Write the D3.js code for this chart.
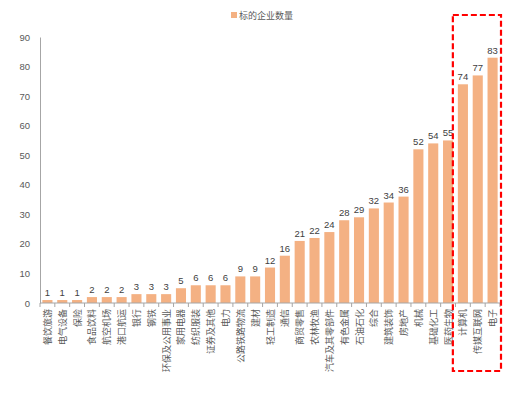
<!DOCTYPE html>
<html>
<head>
<meta charset="utf-8">
<script src="https://cdn.jsdelivr.net/npm/d3@7"></script>
<style>
  body { margin: 0; background: #fff; }
  svg { font-family: "Noto Sans CJK SC", "DejaVu Sans", sans-serif; }
</style>
</head>
<body>
<script>
// industries and counts
var categories = ["餐饮旅游", "电气设备", "保险", "食品饮料", "航空机场", "港口航运", "银行", "钢铁",
  "环保及公用事业", "家用电器", "纺织服装", "证券及其他", "电力", "公路铁路物流", "建材", "轻工制造",
  "通信", "商贸零售", "农林牧渔", "汽车及其零部件", "有色金属", "石油石化", "综合", "建筑装饰",
  "房地产", "机械", "基础化工", "医药生物", "计算机", "传媒互联网", "电子"];
var counts = [1, 1, 1, 2, 2, 2, 3, 3, 3, 5, 6, 6, 6, 9, 9, 12, 16, 21, 22, 24, 28, 29, 32, 34, 36, 52, 54, 55, 74, 77, 83];
var yTicks = [0, 10, 20, 30, 40, 50, 60, 70, 80, 90];
var seriesName = "标的企业数量";

var width = 527, height = 393;
var barColor = "#f4b183";

var svg = d3.select("body").append("svg")
    .attr("width", width)
    .attr("height", height);

var x = d3.scaleBand()
    .domain(categories)
    .range([40, 500])
    .paddingInner(0.32)
    .paddingOuter(0.16);

var y = d3.scaleLinear()
    .domain([0, 90])
    .range([303, 37]);

// y axis
var yAxis = svg.append("g")
    .attr("transform", "translate(40,0)")
    .call(d3.axisLeft(y).tickValues(yTicks).tickSize(0).tickPadding(10));
yAxis.select(".domain").attr("stroke", "#a6a6a6");
yAxis.selectAll("text")
    .attr("fill", "#595959")
    .style("font-size", "9.5px")
    .style("font-family", "Liberation Sans, Arial, sans-serif");

// bars
svg.selectAll(".bar")
    .data(counts)
  .enter().append("rect")
    .attr("class", "bar")
    .attr("x", function(d, i) { return x(categories[i]); })
    .attr("y", function(d) { return y(d); })
    .attr("width", x.bandwidth())
    .attr("height", function(d) { return y(0) - y(d); })
    .attr("fill", barColor);

// value labels
svg.selectAll(".val")
    .data(counts)
  .enter().append("text")
    .attr("class", "val")
    .attr("x", function(d, i) { return x(categories[i]) + x.bandwidth() / 2; })
    .attr("y", function(d) { return y(d) - 4; })
    .attr("text-anchor", "middle")
    .attr("fill", "#404040")
    .style("font-size", "9.5px")
    .style("font-family", "Liberation Sans, Arial, sans-serif")
    .text(function(d) { return d; });

// x axis line + ticks between categories
var bounds = d3.range(categories.length + 1).map(function(i) { return 40 + i * (460 / categories.length); });
svg.append("line")
    .attr("x1", 40).attr("x2", 500)
    .attr("y1", y(0)).attr("y2", y(0))
    .attr("stroke", "#a6a6a6");
svg.selectAll(".xtick")
    .data(bounds)
  .enter().append("line")
    .attr("class", "xtick")
    .attr("x1", function(d) { return d; })
    .attr("x2", function(d) { return d; })
    .attr("y1", y(0))
    .attr("y2", y(0) + 4)
    .attr("stroke", "#a6a6a6");

// category labels, rotated
svg.selectAll(".cat")
    .data(categories)
  .enter().append("text")
    .attr("class", "cat")
    .attr("transform", function(d) {
      return "translate(" + (x(d) + x.bandwidth() / 2 + 3.5) + "," + (y(0) + 6) + ") rotate(-90)";
    })
    .attr("text-anchor", "end")
    .attr("fill", "#595959")
    .style("font-size", "9px")
    .text(function(d) { return d; });

// legend
svg.append("rect")
    .attr("x", 231).attr("y", 12)
    .attr("width", 6).attr("height", 6)
    .attr("fill", barColor);
svg.append("text")
    .attr("x", 239).attr("y", 18.5)
    .attr("fill", "#595959")
    .style("font-size", "9px")
    .text(seriesName);

// red dashed highlight around the top three
var hi = categories.slice(-3);
svg.append("rect")
    .attr("x", x(hi[0]) - 5)
    .attr("y", 15)
    .attr("width", 501 - (x(hi[0]) - 5))
    .attr("height", 356)
    .attr("fill", "none")
    .attr("stroke", "#ff0000")
    .attr("stroke-width", 2.2)
    .attr("stroke-dasharray", "6,3");
</script>
</body>
</html>
